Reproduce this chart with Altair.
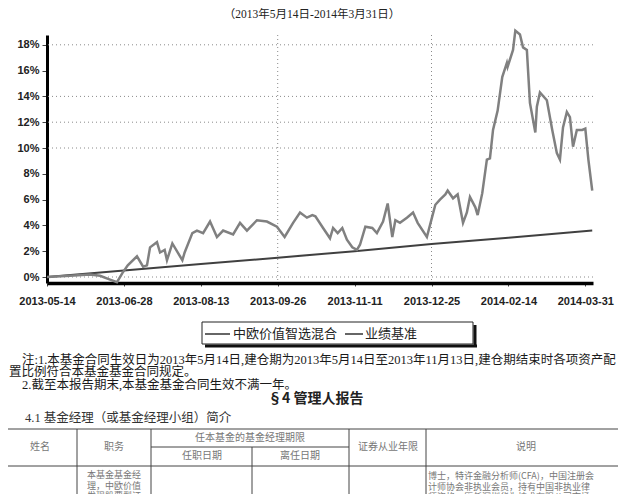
import json
import altair as alt
import pandas as pd

# ---------------- data ----------------
x_labels = ["2013-05-14", "2013-06-28", "2013-08-13", "2013-09-26",
            "2013-11-11", "2013-12-25", "2014-02-14", "2014-03-31"]
x_ticks = list(range(len(x_labels)))
y_ticks = [0, 2, 4, 6, 8, 10, 12, 14, 16, 18]
grid_y = [0, 10, 12, 14, 18]
grid_x = [3, 5]

# position along the date axis (in label intervals) and cumulative growth (%)
fund_t = [0.00, 0.30, 0.56, 0.69, 0.82, 0.91, 0.98, 1.05, 1.17, 1.25, 1.30, 1.34, 1.43, 1.47,
          1.53, 1.56, 1.63, 1.76, 1.79, 1.89, 1.95, 2.03, 2.12, 2.21, 2.29, 2.42, 2.51, 2.60,
          2.73, 2.86, 2.99, 3.09, 3.20, 3.29, 3.38, 3.45, 3.49, 3.59, 3.68, 3.72, 3.78, 3.84,
          3.90, 3.97, 4.03, 4.07, 4.14, 4.23, 4.29, 4.37, 4.43, 4.49, 4.53, 4.59, 4.68, 4.76,
          4.82, 4.94, 5.01, 5.05, 5.11, 5.18, 5.21, 5.28, 5.34, 5.41, 5.46, 5.50, 5.57, 5.60,
          5.66, 5.72, 5.76, 5.80, 5.86, 5.92, 5.98, 5.99, 6.06, 6.09, 6.15, 6.19, 6.24, 6.28,
          6.35, 6.37, 6.41, 6.50, 6.57, 6.63, 6.67, 6.71, 6.76, 6.80, 6.84, 6.89, 6.96, 7.00,
          7.04, 7.09]
fund_v = [0.0, 0.1, 0.2, 0.1, -0.2, -0.4, 0.3, 0.9, 1.6, 0.8, 0.9, 2.3, 2.7, 1.9,
          2.1, 1.3, 2.6, 1.3, 1.9, 3.4, 3.6, 3.4, 4.3, 3.1, 3.6, 3.3, 4.2, 3.6,
          4.4, 4.3, 3.9, 3.1, 4.2, 5.0, 4.6, 4.8, 4.7, 3.8, 3.0, 3.8, 3.4, 3.8,
          2.9, 2.3, 2.1, 2.5, 3.9, 3.8, 3.4, 4.3, 5.7, 3.1, 4.4, 4.2, 4.6, 5.0,
          4.2, 3.1, 4.7, 5.6, 6.0, 6.4, 6.7, 6.1, 6.4, 4.2, 5.0, 6.2, 5.4, 4.8,
          6.5, 9.1, 9.2, 11.4, 12.9, 15.5, 16.6, 16.3, 17.6, 19.1, 18.8, 17.8, 17.6, 13.5,
          11.2, 13.2, 14.3, 13.7, 11.4, 9.6, 9.1, 11.6, 12.8, 12.4, 10.1, 11.4, 11.4, 11.5,
          9.1, 6.7]
bench_t = [0, 1, 2, 3, 4, 5, 6, 7.09]
bench_v = [0.0, 0.5, 1.0, 1.5, 2.0, 2.55, 3.05, 3.6]
legend_names = ["中欧价值智选混合", "业绩基准"]

title_text = "（2013年5月14日-2014年3月31日）"
note_lines = ["注:1.本基金合同生效日为2013年5月14日,建仓期为2013年5月14日至2013年11月13日,建仓期结束时各项资产配",
              "置比例符合本基金基金合同规定。",
              "2.截至本报告期末,本基金基金合同生效不满一年。"]
section_title = "§4  管理人报告"
sub_title = "4.1 基金经理（或基金经理小组）简介"
table_headers = ["姓名", "职务", "任本基金的基金经理期限", "任职日期", "离任日期", "证券从业年限", "说明"]
table_job = ["本基金基金经", "理，中欧价值", "发现股票型证", "券投资基金基"]
table_desc = ["博士，特许金融分析师(CFA)，中国注册会",
              "计师协会非执业会员，持有中国非执业律",
              "师资格，历任深圳华为技术有限公司市场"]

# ---------------- layout ----------------
OX, OY = 47, 35          # plot origin on the page
W, H = 546, 248
SERIF = "'Liberation Serif', 'Noto Sans CJK SC', serif"
CJK = "'Noto Sans CJK SC', sans-serif"
ONE = pd.DataFrame({"k": [0]})

xs = alt.Scale(domain=[0, 7.1], nice=False, zero=False)
ys = alt.Scale(domain=[-0.465, 18.76], nice=False, zero=False)

x_axis = alt.Axis(values=x_ticks, labelExpr=json.dumps(x_labels) + "[datum.value]",
                  title=None, grid=False, domainColor="#000", domainWidth=3.5,
                  tickColor="#444", tickSize=3, labelFont="Liberation Sans",
                  labelFontSize=11, labelFontWeight="bold", labelColor="#222",
                  labelPadding=9, labelFlush=False, labelOverlap=False)
y_axis = alt.Axis(values=y_ticks, labelExpr="datum.value + '%'", title=None, grid=False,
                  domainColor="#000", domainWidth=3, tickColor="#444", tickSize=5,
                  labelFont="Liberation Sans", labelFontSize=11, labelFontWeight="bold",
                  labelColor="#222", labelPadding=3, labelFlush=False, labelOverlap=False)

X = lambda f: alt.X(f, scale=xs, axis=x_axis)
Y = lambda f: alt.Y(f, scale=ys, axis=y_axis)

fund = alt.Chart(pd.DataFrame({"t": fund_t, "v": fund_v})).mark_line(
    color="#808080", strokeWidth=2.5).encode(x=X("t:Q"), y=Y("v:Q"))
bench = alt.Chart(pd.DataFrame({"t": bench_t, "v": bench_v})).mark_line(
    color="#404040", strokeWidth=2).encode(x=X("t:Q"), y=Y("v:Q"))
grid_h = alt.Chart(pd.DataFrame({"v": grid_y})).mark_rule(
    color="#8a8a8a", strokeDash=[1, 3], strokeWidth=1).encode(y=Y("v:Q"))
grid_v = alt.Chart(pd.DataFrame({"t": grid_x})).mark_rule(
    color="#8a8a8a", strokeDash=[1, 3], strokeWidth=1).encode(x=X("t:Q"))


def one_text(x, y, s, **kw):
    return alt.Chart(ONE).mark_text(baseline="middle", **kw).encode(
        x=alt.value(x - OX), y=alt.value(y - OY), text=alt.value(s))


def one_rule(x1, x2, y1, y2, **kw):
    return alt.Chart(ONE).mark_rule(**kw).encode(
        x=alt.value(x1 - OX), x2=alt.value(x2 - OX),
        y=alt.value(y1 - OY), y2=alt.value(y2 - OY))


layers = [grid_h, grid_v, bench, fund]

# legend
layers.append(alt.Chart(ONE).mark_rect(fill="white", stroke="#222", strokeWidth=1).encode(
    x=alt.value(202 - OX), x2=alt.value(473 - OX), y=alt.value(322 - OY), y2=alt.value(344 - OY)))
layers.append(one_rule(475, 475, 325, 347, color="#111", strokeWidth=3))
layers.append(one_rule(205, 477, 346, 346, color="#111", strokeWidth=3))
layers.append(one_rule(205, 230, 334, 334, color="#333", strokeWidth=1.5))
layers.append(one_rule(345, 363, 334, 334, color="#333", strokeWidth=1.5))
for lx, name in zip([233, 365], legend_names):
    layers.append(one_text(lx, 334, name, align="left", font=CJK, fontSize=13, color="#222"))

# texts above / below the chart
layers.append(one_text(312, 15, title_text, align="center", font=SERIF, fontSize=11.5, color="#222"))
for nx, ny, line in zip([22, 9, 22], [360, 372, 385], note_lines):
    layers.append(one_text(nx, ny, line, align="left", font=SERIF, fontSize=12.5, color="#1a1a1a"))
layers.append(one_text(268, 399, section_title, align="left", font=CJK, fontSize=14,
                       fontWeight="bold", color="#222"))
layers.append(one_text(25, 418, sub_title, align="left", font=SERIF, fontSize=12.5, color="#333"))

# table
t_top, t_split, t_hdr, t_bot = 429, 447, 466, 510
for cx in [3, 77, 151, 349, 426]:
    layers.append(one_rule(cx, cx, t_top, t_bot, color="#444", strokeWidth=1))
layers.append(one_rule(252, 252, t_split, t_bot, color="#444", strokeWidth=1))
layers.append(one_rule(3, 640, t_top, t_top, color="#444", strokeWidth=1))
layers.append(one_rule(151, 349, t_split, t_split, color="#444", strokeWidth=1))
layers.append(one_rule(3, 640, t_hdr, t_hdr, color="#444", strokeWidth=1))
for hx, hy, h in zip([40, 114, 250, 202, 300, 388, 526], [447, 447, 438, 456, 456, 447, 447],
                     table_headers):
    layers.append(one_text(hx, hy, h, align="center", font=CJK, fontSize=10, color="#777"))
for i, s in enumerate(table_job):
    layers.append(one_text(114, 475 + 10.5 * i, s, align="center", font=CJK, fontSize=9, color="#777"))
for i, s in enumerate(table_desc):
    layers.append(one_text(428, 476 + 10.5 * i, s, align="left", font=CJK, fontSize=9, color="#777"))

chart = alt.layer(*layers).properties(
    width=W, height=H,
    autosize=alt.AutoSizeParams(type="none"),
    padding={"left": 39, "top": 27, "right": 25, "bottom": 211},
).configure_view(strokeWidth=0)

chart.save("out.html", embed_options={"renderer": "svg", "actions": False})
